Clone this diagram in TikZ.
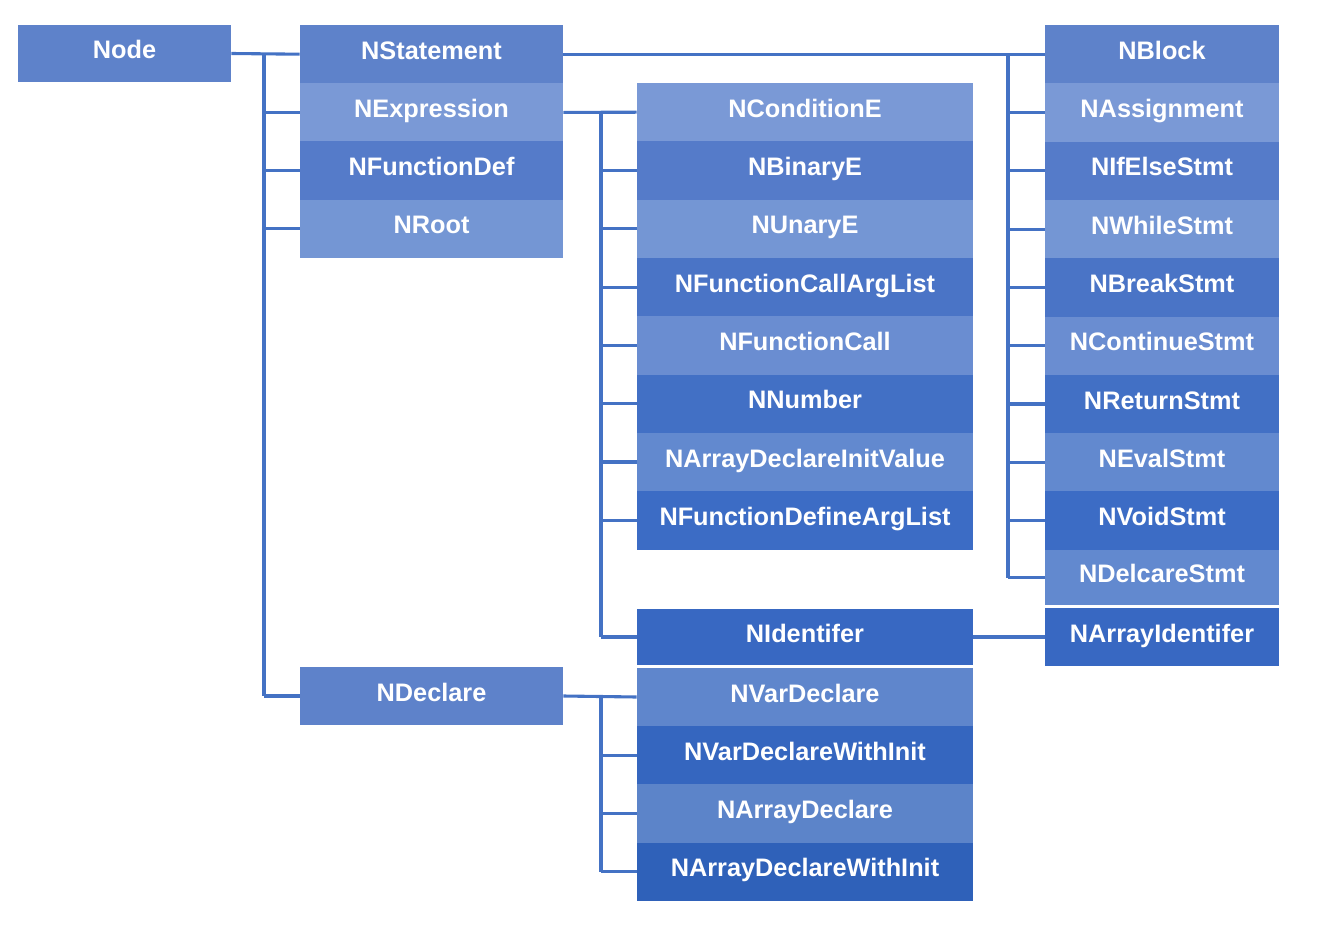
\documentclass[tikz,border=0pt]{standalone}
\usepackage{fontspec}
\setmainfont{Liberation Sans}
\usepackage{xcolor}
\definecolor{link-blue}{HTML}{4472C4}
\definecolor{tone1}{HTML}{5E82CA}
\definecolor{tone2}{HTML}{7A99D6}
\definecolor{tone3}{HTML}{557BC9}
\definecolor{tone4}{HTML}{7496D4}
\definecolor{tone5}{HTML}{4A74C6}
\definecolor{tone6}{HTML}{6A8DD1}
\definecolor{tone7}{HTML}{4270C5}
\definecolor{tone8}{HTML}{6289CF}
\definecolor{tone9}{HTML}{3C6CC5}
\definecolor{tone10}{HTML}{3868C2}
\definecolor{tone11}{HTML}{5F86CC}
\definecolor{tone12}{HTML}{3566BF}
\definecolor{tone13}{HTML}{5C84C9}
\definecolor{tone14}{HTML}{2F61B9}

\begin{document}
\begin{tikzpicture}[
      every node/.style={font=\fontsize{18}{21}\selectfont\bfseries, text=white},
      cls/.style={inner sep=0pt, minimum height=1.46cm,
                  text height=0.5cm, text depth=0.25cm},
      clsA/.style={cls, minimum width=6.575cm},
      clsB/.style={cls, minimum width=8.4cm},
      clsC/.style={cls, minimum width=5.85cm},
      link/.style={draw=link-blue, line width=2.2pt}]
    \useasboundingbox (0,0) rectangle (33,-23.3);
    % root
    \node[cls, fill=tone1, minimum width=5.325cm, minimum height=1.425cm]
          (Node) at (3.1125,-1.3375) {Node};
    % first level
    \node[clsA, fill=tone1] (NStatement) at (10.7875,-1.355) {NStatement};
    \node[clsA, fill=tone2] (NExpression) at (10.7875,-2.81) {NExpression};
    \node[clsA, fill=tone3] (NFunctionDef) at (10.7875,-4.265) {NFunctionDef};
    \node[clsA, fill=tone4] (NRoot) at (10.7875,-5.72) {NRoot};
    \node[clsA, fill=tone1] (NDeclare) at (10.7875,-17.4) {NDeclare};
    % expressions
    \node[clsB, fill=tone2] (NConditionE) at (20.125,-2.805) {NConditionE};
    \node[clsB, fill=tone3] (NBinaryE) at (20.125,-4.2625) {NBinaryE};
    \node[clsB, fill=tone4] (NUnaryE) at (20.125,-5.72) {NUnaryE};
    \node[clsB, fill=tone5] (NFunctionCallArgList) at (20.125,-7.1775) {NFunctionCallArgList};
    \node[clsB, fill=tone6] (NFunctionCall) at (20.125,-8.635) {NFunctionCall};
    \node[clsB, fill=tone7] (NNumber) at (20.125,-10.0925) {NNumber};
    \node[clsB, fill=tone8] (NArrayDeclareInitValue) at (20.125,-11.55) {NArrayDeclareInitValue};
    \node[clsB, fill=tone9] (NFunctionDefineArgList) at (20.125,-13.0075) {NFunctionDefineArgList};
    \node[clsB, fill=tone10, minimum height=1.4cm] (NIdentifer) at (20.125,-15.925) {NIdentifer};
    % declarations
    \node[clsB, fill=tone11] (NVarDeclare) at (20.125,-17.425) {NVarDeclare};
    \node[clsB, fill=tone12] (NVarDeclareWithInit) at (20.125,-18.8825) {NVarDeclareWithInit};
    \node[clsB, fill=tone13] (NArrayDeclare) at (20.125,-20.34) {NArrayDeclare};
    \node[clsB, fill=tone14] (NArrayDeclareWithInit) at (20.125,-21.7975) {NArrayDeclareWithInit};
    % statements
    \node[clsC, fill=tone1] (NBlock) at (29.05,-1.355) {NBlock};
    \node[clsC, fill=tone2] (NAssignment) at (29.05,-2.8125) {NAssignment};
    \node[clsC, fill=tone3] (NIfElseStmt) at (29.05,-4.27) {NIfElseStmt};
    \node[clsC, fill=tone4] (NWhileStmt) at (29.05,-5.7275) {NWhileStmt};
    \node[clsC, fill=tone5] (NBreakStmt) at (29.05,-7.185) {NBreakStmt};
    \node[clsC, fill=tone6] (NContinueStmt) at (29.05,-8.6425) {NContinueStmt};
    \node[clsC, fill=tone7] (NReturnStmt) at (29.05,-10.1) {NReturnStmt};
    \node[clsC, fill=tone8] (NEvalStmt) at (29.05,-11.5575) {NEvalStmt};
    \node[clsC, fill=tone9] (NVoidStmt) at (29.05,-13.015) {NVoidStmt};
    \node[clsC, fill=tone8, minimum height=1.375cm] (NDelcareStmt) at (29.05,-14.4375) {NDelcareStmt};
    \node[clsC, fill=tone10, minimum height=1.45cm] (NArrayIdentifer) at (29.05,-15.925) {NArrayIdentifer};
    % trunks
    \coordinate (trunkA) at (6.6,0);
    \coordinate (trunkB) at (15.025,0);
    \coordinate (trunkC) at (25.2,0);
    % Node -> first level
    \draw[link] (Node.east) -- (NStatement.west);
    \draw[link] (trunkA |- NStatement.west) -- (trunkA |- NDeclare.west);
    \draw[link] (trunkA |- NExpression.west) -- (NExpression.west);
    \draw[link] (trunkA |- NFunctionDef.west) -- (NFunctionDef.west);
    \draw[link] (trunkA |- NRoot.west) -- (NRoot.west);
    \draw[link] (trunkA |- NDeclare.west) -- (NDeclare.west);
    % NStatement -> statements
    \draw[link] (NStatement.east) -- (NBlock.west);
    \draw[link] (trunkC |- NBlock.west) -- (trunkC |- NDelcareStmt.west);
    \draw[link] (trunkC |- NAssignment.west) -- (NAssignment.west);
    \draw[link] (trunkC |- NIfElseStmt.west) -- (NIfElseStmt.west);
    \draw[link] (trunkC |- NWhileStmt.west) -- (NWhileStmt.west);
    \draw[link] (trunkC |- NBreakStmt.west) -- (NBreakStmt.west);
    \draw[link] (trunkC |- NContinueStmt.west) -- (NContinueStmt.west);
    \draw[link] (trunkC |- NReturnStmt.west) -- (NReturnStmt.west);
    \draw[link] (trunkC |- NEvalStmt.west) -- (NEvalStmt.west);
    \draw[link] (trunkC |- NVoidStmt.west) -- (NVoidStmt.west);
    \draw[link] (trunkC |- NDelcareStmt.west) -- (NDelcareStmt.west);
    % NExpression -> expressions
    \draw[link] (NExpression.east) -- (NConditionE.west);
    \draw[link] (trunkB |- NConditionE.west) -- (trunkB |- NIdentifer.west);
    \draw[link] (trunkB |- NBinaryE.west) -- (NBinaryE.west);
    \draw[link] (trunkB |- NUnaryE.west) -- (NUnaryE.west);
    \draw[link] (trunkB |- NFunctionCallArgList.west) -- (NFunctionCallArgList.west);
    \draw[link] (trunkB |- NFunctionCall.west) -- (NFunctionCall.west);
    \draw[link] (trunkB |- NNumber.west) -- (NNumber.west);
    \draw[link] (trunkB |- NArrayDeclareInitValue.west) -- (NArrayDeclareInitValue.west);
    \draw[link] (trunkB |- NFunctionDefineArgList.west) -- (NFunctionDefineArgList.west);
    \draw[link] (trunkB |- NIdentifer.west) -- (NIdentifer.west);
    \draw[link] (NIdentifer.east) -- (NArrayIdentifer.west);
    % NDeclare -> declarations
    \draw[link] (NDeclare.east) -- (NVarDeclare.west);
    \draw[link] (trunkB |- NVarDeclare.west) -- (trunkB |- NArrayDeclareWithInit.west);
    \draw[link] (trunkB |- NVarDeclareWithInit.west) -- (NVarDeclareWithInit.west);
    \draw[link] (trunkB |- NArrayDeclare.west) -- (NArrayDeclare.west);
    \draw[link] (trunkB |- NArrayDeclareWithInit.west) -- (NArrayDeclareWithInit.west);
  \end{tikzpicture}
\end{document}
